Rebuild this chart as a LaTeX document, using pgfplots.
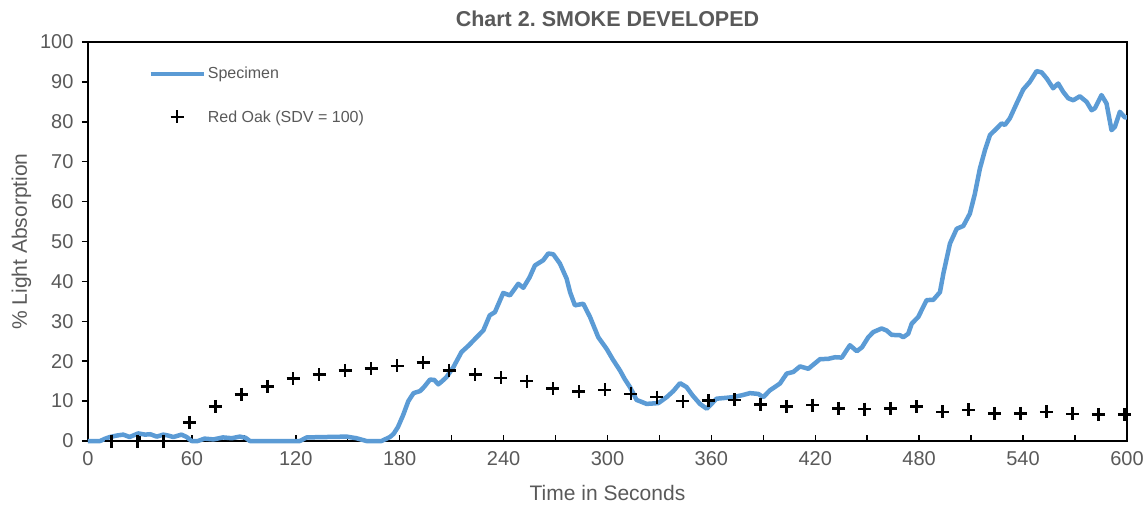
\documentclass[border=0pt]{standalone}
\usepackage{pgfplots}
\pgfplotsset{compat=1.18}
\usepackage{fontspec}
\setmainfont{Liberation Sans}
\definecolor{txtgray}{HTML}{595959}
\definecolor{specblue}{HTML}{5B9BD5}
\pgfplotsset{
  linelegend/.style={legend image code/.code={\draw[##1] (0pt,0pt) -- (53pt,0pt);}},
  marklegend/.style={legend image code/.code={\draw[##1] plot coordinates {(26.5pt,0pt)};}},
}
\pgfplotstableread{
t v
0 0
7 0
10 0.6
12.7 1.0
17 1.4
20.4 1.6
24 1.0
29 1.9
33 1.6
36 1.7
39.7 1.1
43.5 1.6
46 1.4
49.3 1.0
54 1.6
57 1.0
59.8 0
63.5 0
67.3 0.6
72.4 0.4
78 0.9
83 0.7
87.7 1.1
91 0.8
93.5 0
122.4 0
126.3 0.9
149.3 1.1
155 0.7
160.8 0
169.5 0
174.4 1.0
176.5 1.8
179 3.5
182 6.5
185 10.0
188 12.0
191.7 12.5
194 13.5
197.5 15.4
200 15.3
202.3 14.2
204.5 15.0
207 16.0
211 18.5
215.7 22.3
220 24.0
224.4 26.0
228.3 27.7
232 31.5
235 32.3
239.8 37.1
243.7 36.5
248.5 39.4
251.4 38.4
255 41.0
258.1 44.0
262.9 45.3
265.8 47.0
268.7 46.8
272.5 44.5
276.4 40.7
278.4 37.3
281.2 34.0
286 34.4
289.9 31.1
294.7 26.0
299.5 23.1
303 20.5
307.2 17.7
310 15.5
313 13.5
316.8 10.3
322.6 9.3
329.4 9.5
334.2 11.0
338 12.5
341.9 14.5
345.7 13.5
349 11.5
353.4 9.3
357.3 8.1
363 10.6
368 10.8
372.7 11.0
378 11.5
382.3 12.0
387.1 11.8
390 11.0
393.8 12.7
399.6 14.4
403.5 16.9
407.3 17.3
411.2 18.7
416 18.1
422.7 20.5
427.6 20.6
431.4 21.0
435.3 20.9
440 24.0
444 22.5
447 23.5
450.6 26.0
453.5 27.3
458.3 28.2
461.2 27.7
464.1 26.6
469 26.5
470.8 26.0
473.7 26.9
475.7 29.4
479.5 31.1
484.3 35.3
488.2 35.4
492 37.3
494 42.0
497.8 49.5
501.7 53.2
505.5 53.9
509.3 57.0
512.2 62.0
515.1 68.3
518 72.9
520.9 76.7
524.7 78.3
527.6 79.6
529.5 79.2
532.4 80.9
536.3 84.6
540.1 88.1
543.9 90.0
547.8 92.7
550.7 92.4
553.6 90.9
557.4 88.4
560.3 89.6
563.2 87.5
566.1 85.9
569 85.4
572.8 86.4
576.7 85.0
579.6 82.9
581.5 83.4
585.3 86.7
588.2 84.6
591.1 77.9
593 78.7
595.9 82.5
598.8 81.1
600 81.1
}\specimen
\pgfplotstableread{
t v
13.5 0
28.5 0
43.5 0
58.5 4.7
73.5 8.7
88.5 11.7
103.5 13.7
118.5 15.6
133.5 16.6
148.5 17.7
163.5 18.1
178.5 18.8
193.5 19.7
208.5 17.7
223.5 16.7
238.5 15.8
253.5 15.0
268.5 13.1
283.5 12.4
298.5 12.8
313.5 11.8
328.5 11.0
343.5 10.0
358.5 10.2
373.5 10.3
388.5 9.2
403.5 8.7
418.5 9.0
433.5 8.2
448.5 8.0
463.5 8.2
478.5 8.6
493.5 7.3
508.5 7.8
523.5 6.9
538.5 6.9
553.5 7.3
568.5 6.8
583.5 6.7
598.5 6.7
}\redoak
\begin{document}
\frenchspacing
\begin{tikzpicture}
\begin{axis}[
  at={(0pt,0pt)}, anchor=south west,
  scale only axis, width=1039pt, height=399pt,
  xmin=0, xmax=600, ymin=0, ymax=100,
  xtick={0,60,...,600}, minor xtick={30,90,...,570},
  ytick={0,10,...,100},
  xtick pos=bottom, ytick pos=left,
  xtick align=inside, ytick align=outside,
  major tick length=6pt, minor tick length=6pt,
  tick style={black, line width=1.5pt},
  axis line style={black, line width=2.2pt},
  ticklabel style={font=\fontsize{20}{24}\selectfont, text=txtgray},
  xticklabel style={yshift=-7pt},
  yticklabel style={xshift=-5pt},
  /pgf/number format/assume math mode=true,
  xlabel={Time in Seconds}, ylabel={\% Light Absorption},
  label style={font=\fontsize{21}{24}\selectfont, text=txtgray},
  xlabel style={yshift=-13pt},
  ylabel style={yshift=2pt},
  title={\textbf{Chart 2. SMOKE DEVELOPED}},
  title style={font=\fontsize{21.5}{24}\selectfont, text=txtgray, yshift=6pt},
  legend style={draw=none, fill=none, at={(0.055,0.947)}, anchor=north west,
    font=\fontsize{16}{19}\selectfont, text=txtgray, row sep=26pt,
    legend cell align=left},
  clip=false,
]
\addplot[specblue, line width=4.5pt, line join=round, linelegend]
  table[x=t,y=v]{\specimen};
\addlegendentry{Specimen}
\addplot[only marks, mark=+, mark size=6.5pt, black, mark options={line width=2.6pt}, marklegend]
  table[x=t,y=v]{\redoak};
\addlegendentry{Red Oak (SDV = 100)}
\end{axis}
\pgfresetboundingbox
\path[use as bounding box] (-88pt,-66pt) rectangle (1060pt,441pt);
\end{tikzpicture}
\end{document}
